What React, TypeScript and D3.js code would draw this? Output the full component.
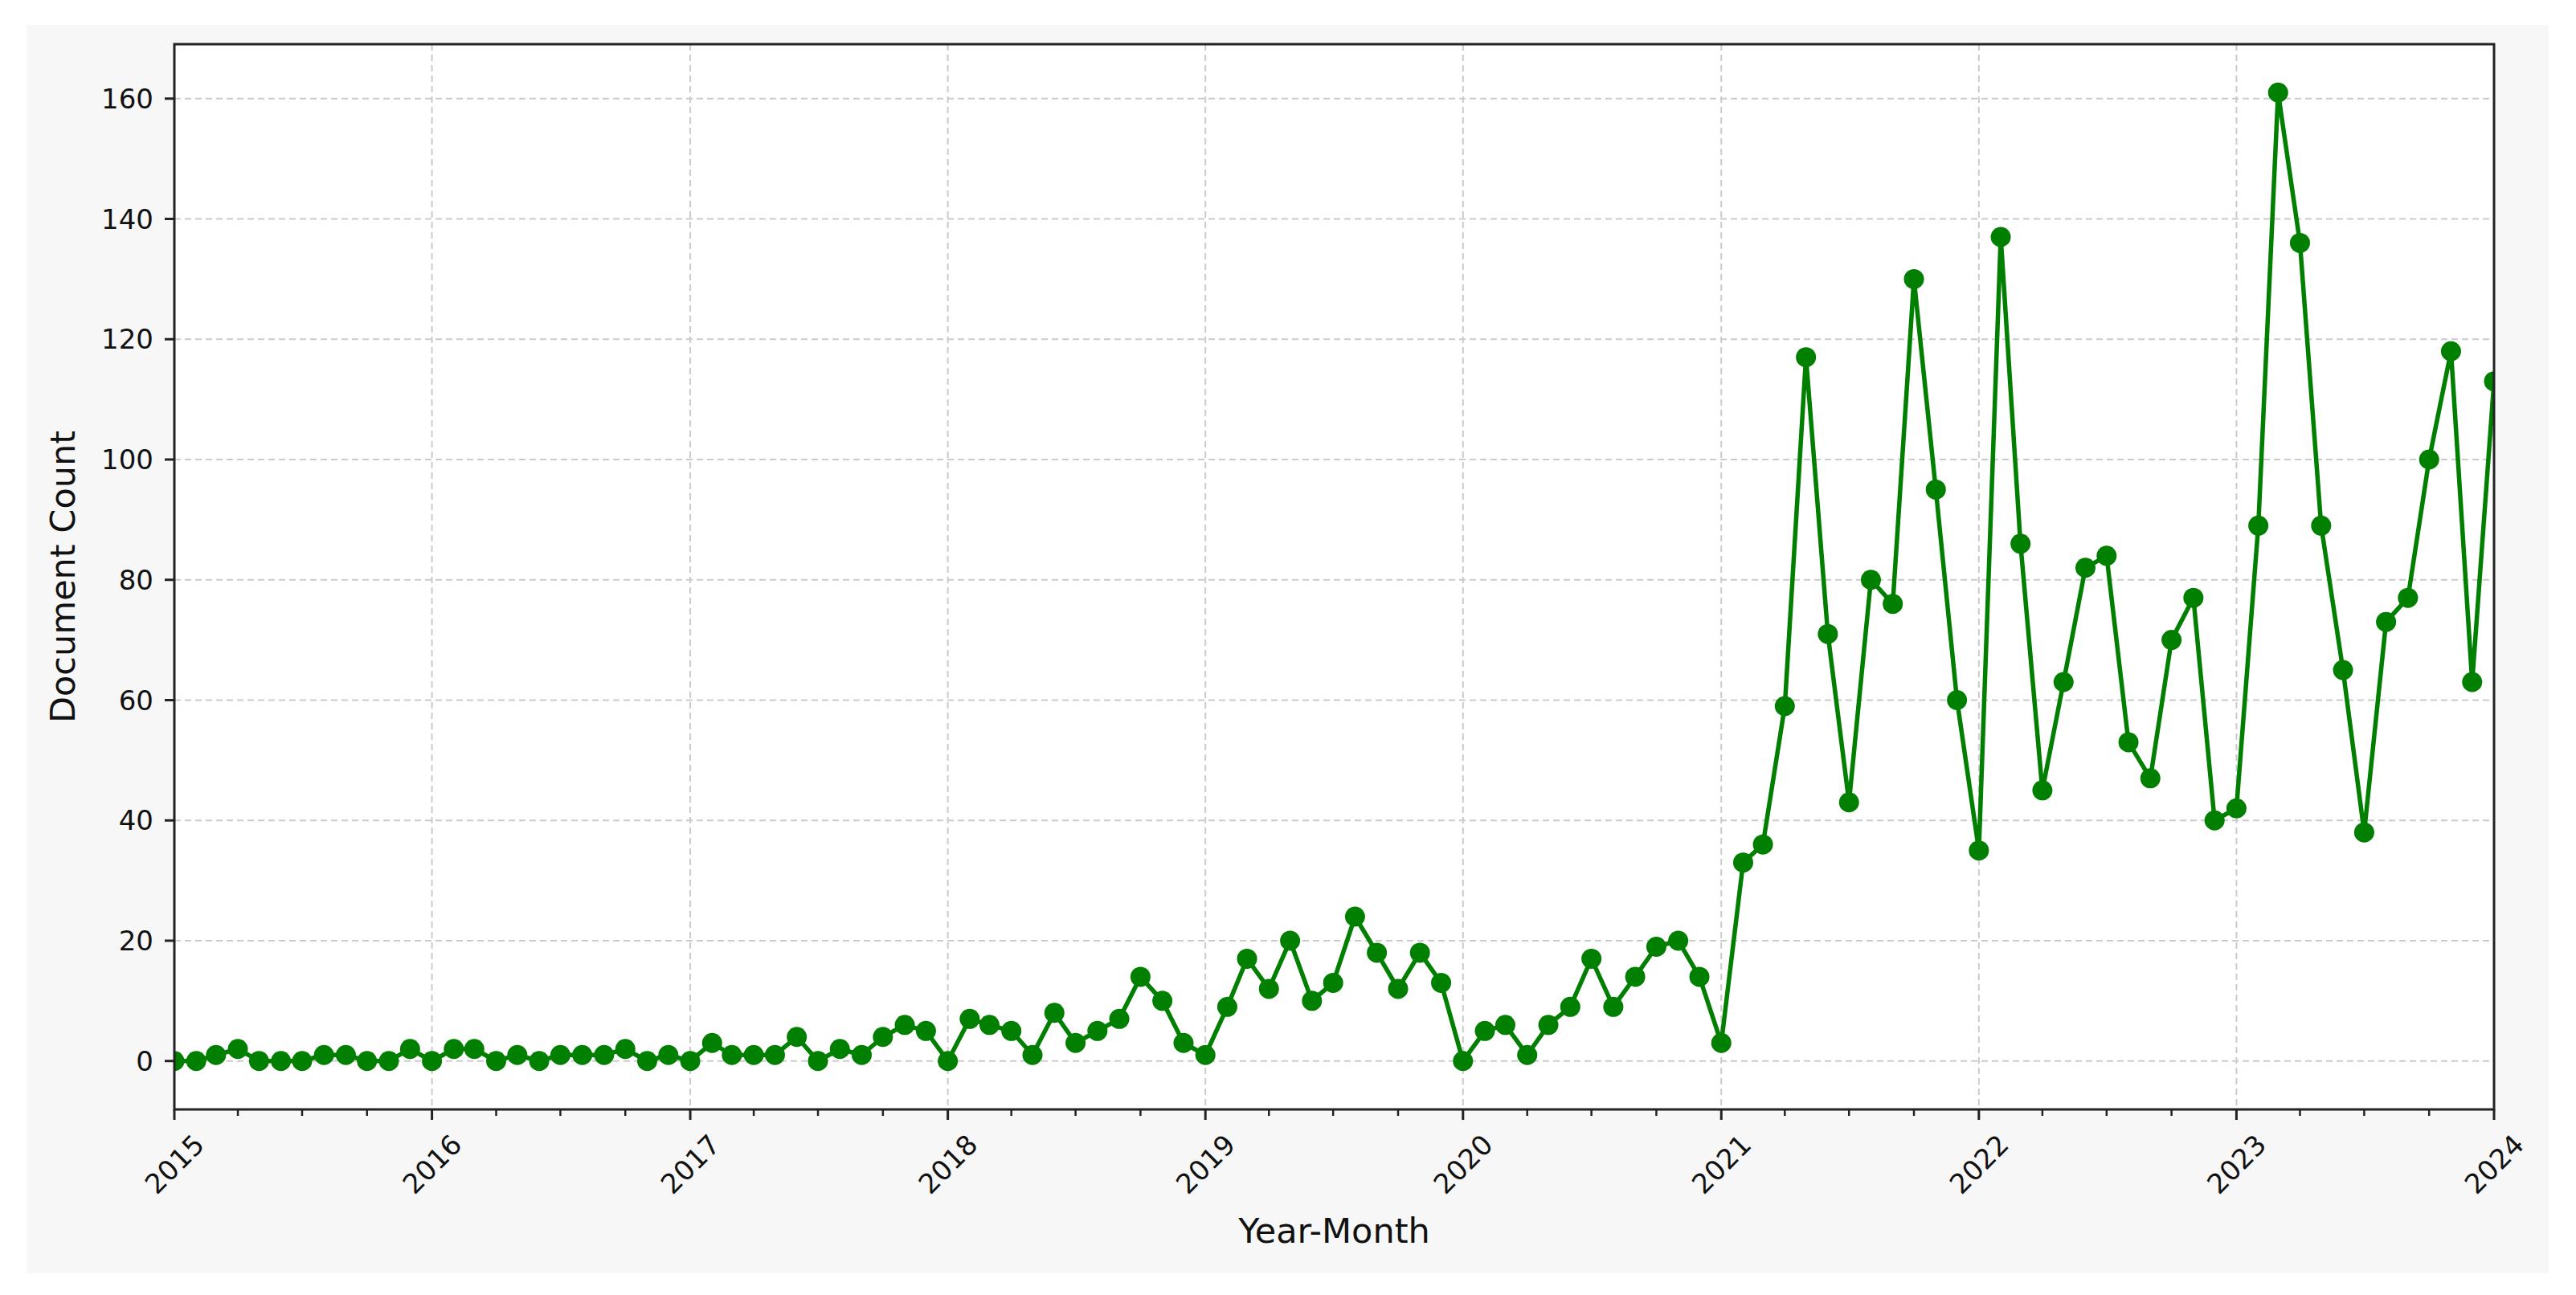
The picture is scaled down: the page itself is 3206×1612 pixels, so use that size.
import React from "react";
import * as d3 from "d3";

// ---- data ----
const startYear = 2015;
const counts2015 = [0, 0, 1, 2, 0, 0, 0, 1, 1, 0, 0, 2];
const counts2016 = [0, 2, 2, 0, 1, 0, 1, 1, 1, 2, 0, 1];
const counts2017 = [0, 3, 1, 1, 1, 4, 0, 2, 1, 4, 6, 5];
const counts2018 = [0, 7, 6, 5, 1, 8, 3, 5, 7, 14, 10, 3];
const counts2019 = [1, 9, 17, 12, 20, 10, 13, 24, 18, 12, 18, 13];
const counts2020 = [0, 5, 6, 1, 6, 9, 17, 9, 14, 19, 20, 14];
const counts2021 = [3, 33, 36, 59, 117, 71, 43, 80, 76, 130, 95, 60];
const counts2022 = [35, 137, 86, 45, 63, 82, 84, 53, 47, 70, 77, 40];
const counts2023 = [42, 89, 161, 136, 89, 65, 38, 73, 77, 100, 118, 63];
const counts2024 = [113];
const documentCounts = [
  ...counts2015, ...counts2016, ...counts2017, ...counts2018, ...counts2019,
  ...counts2020, ...counts2021, ...counts2022, ...counts2023, ...counts2024,
];
const yTicks = [0, 20, 40, 60, 80, 100, 120, 140, 160];
const yearTicks = [2015, 2016, 2017, 2018, 2019, 2020, 2021, 2022, 2023, 2024];
const xLabel = "Year-Month";
const yLabel = "Document Count";

const series = documentCounts.map((v, i) => ({
  date: new Date(startYear, i, 1),
  value: v,
}));

// ---- layout ----
const W = 3206, H = 1612;
const L = 217, R = 3104, T = 55, B = 1381;
const GREEN = "#007f00";
const FONT = "DejaVu Sans";

export default function App() {
  const x = d3.scaleTime()
    .domain([new Date(2015, 0, 1), new Date(2024, 0, 1)])
    .range([L, R]);
  const y = d3.scaleLinear().domain([-8.05, 169.05]).range([B, T]);
  const line = d3.line<any>().x(d => x(d.date)).y(d => y(d.value));
  const minorTicks = d3.timeMonth.every(3)!.range(new Date(2015, 0, 1), new Date(2024, 0, 2))
    .filter(d => d.getMonth() !== 0);

  return (
    <svg width={W} height={H} style={{ position: "absolute", left: 0, top: 0, background: "#fff" }}
      fontFamily={FONT}>
      <rect x={33} y={31} width={3139} height={1554} fill="#f7f7f7" />
      <rect x={L} y={T} width={R - L} height={B - T} fill="#fff" />
      <defs>
        <clipPath id="plot"><rect x={L} y={T} width={R - L} height={B - T} /></clipPath>
      </defs>
      {/* grid */}
      <g stroke="#cbcbcb" strokeWidth={2} strokeDasharray="8 5">
        {yTicks.map(t => (
          <line key={"gy" + t} x1={L} x2={R} y1={y(t)} y2={y(t)} />
        ))}
        {yearTicks.map(yr => (
          <line key={"gx" + yr} x1={x(new Date(yr, 0, 1))} x2={x(new Date(yr, 0, 1))} y1={T} y2={B} />
        ))}
      </g>
      {/* series */}
      <g clipPath="url(#plot)">
        <path d={line(series) || ""} fill="none" stroke={GREEN} strokeWidth={5.5} strokeLinejoin="round" />
        {series.map((d, i) => (
          <circle key={i} cx={x(d.date)} cy={y(d.value)} r={12.5} fill={GREEN} />
        ))}
      </g>
      {/* spines */}
      <rect x={L} y={T} width={R - L} height={B - T} fill="none" stroke="#222" strokeWidth={3} />
      {/* y ticks */}
      {yTicks.map(t => (
        <g key={"yt" + t}>
          <line x1={L - 12} x2={L} y1={y(t)} y2={y(t)} stroke="#222" strokeWidth={3} />
          <text x={L - 26} y={y(t)} dy="0.36em" textAnchor="end" fontSize={34} fill="#111">{t}</text>
        </g>
      ))}
      {/* x ticks */}
      {minorTicks.map((d, i) => (
        <line key={"mt" + i} x1={x(d)} x2={x(d)} y1={B} y2={B + 8} stroke="#222" strokeWidth={2.5} />
      ))}
      {yearTicks.map(yr => {
        const px = x(new Date(yr, 0, 1));
        return (
          <g key={"xt" + yr}>
            <line x1={px} x2={px} y1={B} y2={B + 13} stroke="#222" strokeWidth={3} />
            <text transform={`translate(${px},${1449}) rotate(-45)`} textAnchor="middle" dy="0.36em"
              fontSize={34} fill="#111">{yr}</text>
          </g>
        );
      })}
      {/* axis labels */}
      <text x={(L + R) / 2} y={1547} textAnchor="middle" fontSize={43} fill="#111">{xLabel}</text>
      <text transform={`translate(${93},${(T + B) / 2}) rotate(-90)`} textAnchor="middle" fontSize={43}
        fill="#111">{yLabel}</text>
    </svg>
  );
}
